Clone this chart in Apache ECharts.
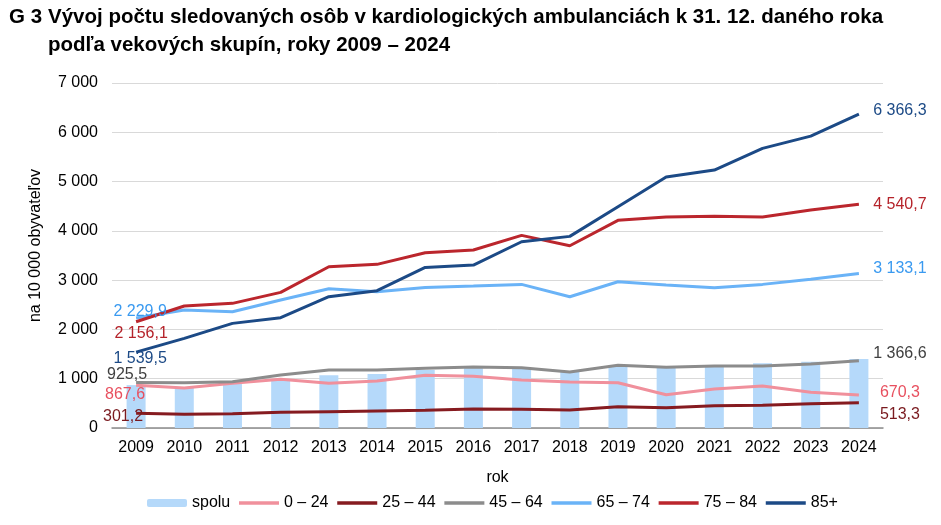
<!DOCTYPE html>
<html>
<head>
<meta charset="utf-8">
<script src="https://cdn.jsdelivr.net/npm/echarts@6/dist/echarts.min.js"></script>
<style>html,body{margin:0;padding:0;background:#fff}#c{width:941px;height:525px}</style>
</head>
<body>
<div id="c"></div>
<script>
const years = ['2009','2010','2011','2012','2013','2014','2015','2016','2017','2018','2019','2020','2021','2022','2023','2024'];
const spolu   = [870, 818, 906, 987, 1068, 1095, 1176, 1210, 1210, 1143, 1257, 1230, 1257, 1312, 1345, 1400];
const age0_24  = [867.6, 811, 906, 987, 906, 953, 1068, 1048, 973, 933, 919, 676, 791, 852, 724, 670.3];
const age25_44 = [301.2, 277, 290, 318, 331, 345, 359, 385, 379, 365, 432, 412, 453, 460, 493, 513.3];
const age45_64 = [925.5, 919, 940, 1075, 1176, 1176, 1210, 1237, 1224, 1136, 1271, 1231, 1257, 1257, 1298, 1366.6];
const age65_74 = [2229.9, 2393, 2360, 2596, 2826, 2765, 2853, 2880, 2914, 2664, 2968, 2900, 2846, 2914, 3016, 3133.1];
const age75_84 = [2156.1, 2475, 2529, 2752, 3272, 3320, 3556, 3611, 3909, 3698, 4213, 4280, 4294, 4280, 4422, 4540.7];
const age85    = [1539.5, 1819, 2123, 2238, 2664, 2786, 3259, 3306, 3779, 3888, 4489, 5091, 5233, 5673, 5923, 6366.3];
const seriesNames = ['spolu', '0 – 24', '25 – 44', '45 – 64', '65 – 74', '75 – 84', '85+'];
const yTicks = [0, 1000, 2000, 3000, 4000, 5000, 6000, 7000];

const FONT = 'Liberation Sans, Arial, sans-serif';
function thou(s){ return s.replace(/\B(?=(\d{3})+(?!\d))/g, ' '); }
function fmt(v){ const p = v.toFixed(1).split('.'); return thou(p[0]) + ',' + p[1]; }

function lineSeries(name, values, color, labelColor, firstOff, lastOff){
  const last = values.length - 1;
  return {
    name: name, type: 'line',
    symbol: 'circle', symbolSize: 0, showSymbol: true,
    lineStyle: { color: color, width: 3 },
    itemStyle: { color: color },
    emphasis: { disabled: true },
    data: values.map(function(v, i){
      if (i === 0 || i === last) {
        const off = i === 0 ? firstOff : lastOff;
        return { value: v, label: { show: true, position: 'inside', offset: off,
          formatter: function(p){ return fmt(p.value); },
          color: labelColor, fontSize: 16, fontFamily: FONT, align: 'center', verticalAlign: 'middle' } };
      }
      return v;
    })
  };
}

const chart = echarts.init(document.getElementById('c'), null, { renderer: 'canvas' });
chart.setOption({
  animation: false,
  backgroundColor: '#fff',
  title: [
    { text: 'G 3', left: 9, top: 3, padding: 0,
      textStyle: { fontFamily: FONT, fontSize: 20.5, fontWeight: 'bold', color: '#000', lineHeight: 28 } },
    { text: 'Vývoj počtu sledovaných osôb v kardiologických ambulanciách k 31. 12. daného roka\npodľa vekových skupín, roky 2009 – 2024',
      left: 48, top: 3, padding: 0,
      textStyle: { fontFamily: FONT, fontSize: 20.5, fontWeight: 'bold', color: '#000', lineHeight: 28 } }
  ],
  grid: { left: 112, right: 58, top: 83, bottom: 97, containLabel: false },
  legend: {
    left: 147, top: 495, padding: 0, itemWidth: 40, itemHeight: 8, itemGap: 7,
    textStyle: { fontFamily: FONT, fontSize: 16, color: '#000' },
    data: seriesNames.map(function(n, i){
      return i === 0 ? { name: n } : { name: n, itemStyle: { opacity: 0 }, lineStyle: { width: 3.5 } };
    })
  },
  xAxis: {
    type: 'category', data: years, boundaryGap: true,
    name: 'rok', nameLocation: 'middle', nameGap: 42,
    nameTextStyle: { fontFamily: FONT, fontSize: 16, color: '#000' },
    axisLine: { lineStyle: { color: '#8c8c8c', width: 1.5 } },
    axisTick: { show: false },
    axisLabel: { fontFamily: FONT, fontSize: 16, color: '#000', margin: 12 }
  },
  yAxis: {
    type: 'value', min: yTicks[0], max: yTicks[yTicks.length - 1], interval: 1000,
    name: 'na 10 000 obyvateľov', nameLocation: 'middle', nameRotate: 90, nameGap: 68,
    nameTextStyle: { fontFamily: FONT, fontSize: 16, color: '#000', padding: [0, 0, 0, 20] },
    axisLine: { show: false }, axisTick: { show: false },
    splitLine: { lineStyle: { color: '#d9d9d9', width: 1 } },
    axisLabel: { fontFamily: FONT, fontSize: 16, color: '#000', margin: 14,
      formatter: function(v){ return thou(String(v)); } }
  },
  series: [
    { name: 'spolu', type: 'bar', data: spolu, barWidth: 19,
      itemStyle: { color: '#b5d9fa' }, emphasis: { disabled: true } },
    lineSeries('0 – 24', age0_24, '#f0909c', '#e8505f', [-11, 9], [41, -2]),
    lineSeries('25 – 44', age25_44, '#861b20', '#7a1a1f', [-13, 3], [41, 12]),
    lineSeries('45 – 64', age45_64, '#8c8c8c', '#404040', [-9, -8], [41, -7]),
    lineSeries('65 – 74', age65_74, '#6ab3f7', '#3a9af0', [4, -7], [41, -5]),
    lineSeries('75 – 84', age75_84, '#bb262d', '#b5232a', [5, 12], [41, 0]),
    lineSeries('85+', age85, '#1c4a86', '#1c4a86', [4, 6], [41, -4])
  ]
});
</script>
</body>
</html>
